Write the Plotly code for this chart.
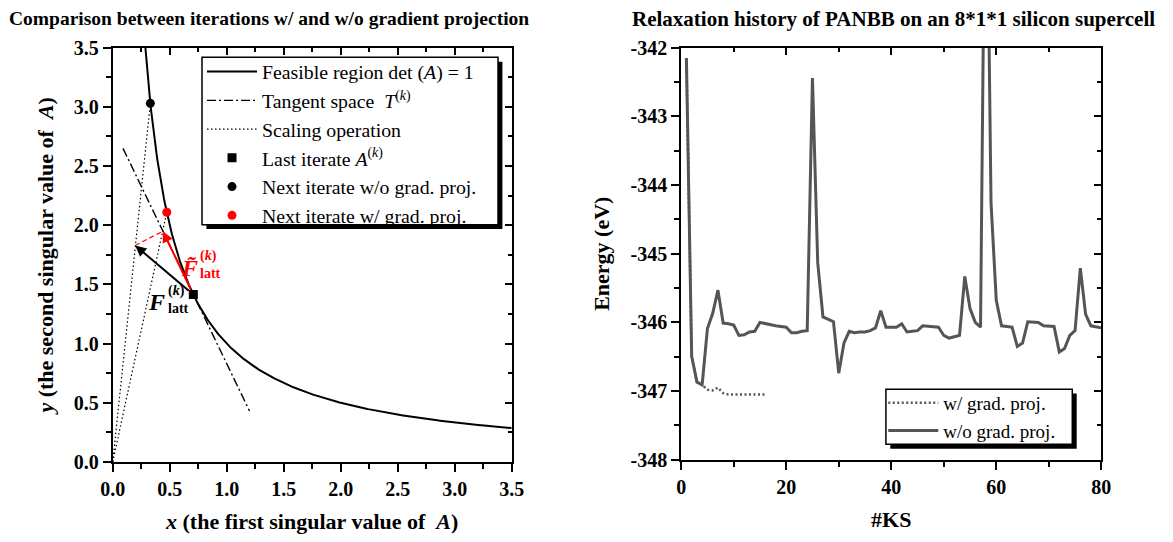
import numpy as np
import plotly.graph_objects as go

W, H = 1173, 542
FONT = "Liberation Serif"

# ---------------- Left panel data ----------------
curve_x = np.linspace(0.28, 3.5, 400)          # feasible region det(A)=1  ->  x*y = 1
curve_y = 1.0 / curve_x
tangent_x = [0.09, 1.20]
tangent_y = [2.65, 0.43]
last_iter_x, last_iter_y = [0.707], [1.414]
next_wo_x, next_wo_y = [0.33], [3.03]
next_w_x, next_w_y = [0.474], [2.11]
f_tip = (0.197, 1.829)
ftilde_tip = (0.44, 1.95)
scaling_x = [0.0, next_wo_x[0], None, 0.0, next_w_x[0]]
scaling_y = [0.0, next_wo_y[0], None, 0.0, next_w_y[0]]

# ---------------- Right panel data ----------------
ks_wo = list(range(1, 81))
energy_wo = [-342.15, -346.49, -346.87, -346.91, -346.09, -345.87, -345.53, -346.01, -346.02, -346.04,
             -346.19, -346.18, -346.14, -346.13, -346.00, -346.02, -346.04, -346.05, -346.06, -346.07,
             -346.15, -346.15, -346.13, -346.12, -342.44, -345.13, -345.92, -345.95, -345.99, -346.74,
             -346.30, -346.13, -346.15, -346.14, -346.14, -346.12, -346.08, -345.83, -346.07, -346.07,
             -346.07, -346.02, -346.14, -346.13, -346.12, -346.05, -346.06, -346.06, -346.07, -346.19,
             -346.23, -346.21, -346.19, -345.33, -345.80, -346.00, -346.07, -338.00, -344.26, -345.68,
             -346.05, -346.06, -346.07, -346.35, -346.30, -345.99, -345.99, -346.00, -346.05, -346.06,
             -346.06, -346.43, -346.38, -346.19, -346.12, -345.21, -345.88, -346.05, -346.07, -346.08]
ks_w = list(range(1, 17))
energy_w = [-342.15, -346.49, -346.87, -346.91, -346.98, -346.99, -346.95, -347.03, -347.05, -347.05,
            -347.05, -347.05, -347.05, -347.05, -347.05, -347.05]
energy_tickvals = [-348, -347, -346, -345, -344, -343, -342]
energy_ticktext = ["-348", "-347", "-346", "-345", "-344", "-343", "-342"]

GRAY = "#555555"
RED = "#ff0000"


def px(x):
    return x / W


def py(y):
    return 1 - y / H


def dx(p):   # left panel pixel -> data x
    return (p - 102) / (408 / 3.5)


def dy(p):   # left panel pixel -> data y
    return 3.5 - (p - 38.3) / (431.7 / 3.5)


fig = go.Figure()

# ---- left traces ----
fig.add_trace(go.Scatter(x=curve_x, y=curve_y, mode="lines", line=dict(color="black", width=2),
                         name="Feasible region det (<i>A</i>) = 1", legend="legend"))
fig.add_trace(go.Scatter(x=tangent_x, y=tangent_y, mode="lines",
                         line=dict(color="black", width=1.4, dash="9px,3px,2px,3px"),
                         name="Tangent space\u00a0 <i>T</i><sup>(<i>k</i>)</sup>", legend="legend"))
fig.add_trace(go.Scatter(x=scaling_x, y=scaling_y, mode="lines",
                         line=dict(color="black", width=1.2, dash="1.5px,2.5px"),
                         name="Scaling operation", legend="legend"))
fig.add_trace(go.Scatter(x=[f_tip[0], ftilde_tip[0]], y=[f_tip[1], ftilde_tip[1]], mode="lines",
                         line=dict(color=RED, width=1.2, dash="5px,3px"), showlegend=False))
fig.add_trace(go.Scatter(x=last_iter_x, y=last_iter_y, mode="markers",
                         marker=dict(symbol="square", size=9, color="black"),
                         name="Last iterate <i>A</i><sup>(<i>k</i>)</sup>", legend="legend"))
fig.add_trace(go.Scatter(x=next_wo_x, y=next_wo_y, mode="markers",
                         marker=dict(symbol="circle", size=9, color="black"),
                         name="Next iterate w/o grad. proj.", legend="legend"))
fig.add_trace(go.Scatter(x=next_w_x, y=next_w_y, mode="markers",
                         marker=dict(symbol="circle", size=9, color=RED),
                         name="Next iterate w/ grad. proj.", legend="legend"))

# ---- right traces ----
fig.add_trace(go.Scatter(x=ks_w, y=energy_w, mode="lines", xaxis="x2", yaxis="y2",
                         line=dict(color=GRAY, width=2.5, dash="2px,2.5px"),
                         name="w/ grad. proj.", legend="legend2"))
fig.add_trace(go.Scatter(x=ks_wo, y=energy_wo, mode="lines", xaxis="x2", yaxis="y2",
                         line=dict(color=GRAY, width=3),
                         name="w/o grad. proj.", legend="legend2"))

# dummy traces for mirrored (inward) tick axes
fig.add_trace(go.Scatter(x=[], y=[], xaxis="x3", yaxis="y3", showlegend=False, hoverinfo="skip"))
fig.add_trace(go.Scatter(x=[], y=[], xaxis="x4", yaxis="y4", showlegend=False, hoverinfo="skip"))

tickfont = dict(family=FONT, size=20, color="black", weight="bold")
titlefont = dict(family=FONT, size=22, color="black", weight="bold")


def main_axis(domain, rng, dtick, minor_dtick, anchor, title, fmt=None, standoff=None, **kw):
    d = dict(domain=domain, range=rng, anchor=anchor, dtick=dtick,
             ticks="outside", ticklen=8, tickwidth=2, tickcolor="black",
             showline=True, linewidth=2, linecolor="black", mirror=True,
             showgrid=False, zeroline=False, tickfont=tickfont,
             minor=dict(dtick=minor_dtick, ticks="outside", ticklen=5, tickwidth=2, tickcolor="black"),
             title=dict(text=title, font=titlefont))
    if standoff is not None:
        d["title"]["standoff"] = standoff
    if fmt:
        d["tickformat"] = fmt
        d["tick0"] = rng[0]
    d.update(kw)
    return d


def mirror_axis(overlay, rng, dtick, minor_dtick, anchor, side):
    return dict(overlaying=overlay, range=rng, anchor=anchor, side=side, dtick=dtick, tick0=rng[0],
                ticks="inside", ticklen=7, tickwidth=2, tickcolor="black",
                showticklabels=False, showline=False, showgrid=False, zeroline=False,
                minor=dict(dtick=minor_dtick, ticks="inside", ticklen=4, tickwidth=2, tickcolor="black"))


L_dom_x = [px(102), px(510)]
L_dom_y = [py(470), py(38.3)]
R_dom_x = [px(683.3), px(1113)]
R_dom_y = [py(467.7), py(38.3)]

fig.update_layout(
    width=W, height=H, margin=dict(l=0, r=0, t=0, b=0),
    paper_bgcolor="white", plot_bgcolor="white",
    font=dict(family=FONT, color="black"),
    xaxis=main_axis(L_dom_x, [0, 3.5], 0.5, 0.25, "y",
                    "<i>x</i> (the first singular value of\u00a0 <i>A</i>)", fmt=".1f"),
    yaxis=main_axis(L_dom_y, [0, 3.5], 0.5, 0.25, "x",
                    "<i>y</i> (the second singular value of\u00a0 <i>A</i>)", fmt=".1f", standoff=14),
    xaxis2=main_axis(R_dom_x, [0, 80], 20, 10, "y2", "#KS"),
    yaxis2=main_axis(R_dom_y, [-348, -342], 1, 0.5, "x2", "Energy (eV)",
                     tickmode="array", tickvals=energy_tickvals, ticktext=energy_ticktext),
    xaxis3=mirror_axis("x", [0, 3.5], 0.5, 0.25, "y", "top"),
    yaxis3=mirror_axis("y", [0, 3.5], 0.5, 0.25, "x", "right"),
    xaxis4=mirror_axis("x2", [0, 80], 20, 10, "y2", "top"),
    yaxis4=mirror_axis("y2", [-348, -342], 1, 0.5, "x2", "right"),
    legend=dict(x=px(193.3), y=py(43.0), xanchor="left", yanchor="top", bgcolor="rgba(0,0,0,0)",
                borderwidth=0, font=dict(family=FONT, size=19.8, color="black"), itemwidth=50),
    legend2=dict(x=px(890), y=py(388.6), xanchor="left", yanchor="top", bgcolor="rgba(0,0,0,0)",
                 borderwidth=0, font=dict(family=FONT, size=19, color="black"), itemwidth=50),
    showlegend=True,
)

# legend frames with drop shadows
for (x0, y0, x1, y1) in [(193.3, 48.3, 496, 222.7), (892.7, 394.3, 1083.3, 451.7)]:
    fig.add_shape(type="rect", xref="paper", yref="paper",
                  x0=px(x0 + 4.5), x1=px(x1 + 4.5), y0=py(y0 + 4.5), y1=py(y1 + 4.5),
                  fillcolor="black", line=dict(width=0), layer="above")
    fig.add_shape(type="rect", xref="paper", yref="paper",
                  x0=px(x0), x1=px(x1), y0=py(y0), y1=py(y1),
                  fillcolor="white", line=dict(width=1.5, color="black"), layer="above")

ann = []
# arrows
for tip, col in [(f_tip, "black"), (ftilde_tip, RED)]:
    ann.append(dict(x=tip[0], y=tip[1], ax=last_iter_x[0], ay=last_iter_y[0], xref="x", yref="y",
                    axref="x", ayref="y", text="", showarrow=True, arrowhead=2, arrowsize=1.1,
                    arrowwidth=2, arrowcolor=col, startstandoff=4))
# labels for the force vectors
for (bx, fy, by, col, txt) in [(190, 268, 265, RED, "F\u0303"), (157, 303.5, 301, "black", "F")]:
    ann.append(dict(x=dx(bx + 1), y=dy(fy), xref="x", yref="y", text="<b><i>%s</i></b>" % txt,
                    showarrow=False, xanchor="right", yanchor="middle",
                    font=dict(family=FONT, size=24, color=col)))
    ann.append(dict(x=dx(bx), y=dy(by), xref="x", yref="y", text="<b>(<i>k</i>)</b>",
                    showarrow=False, xanchor="left", yanchor="bottom", borderpad=0,
                    font=dict(family=FONT, size=14, color=col)))
    ann.append(dict(x=dx(bx), y=dy(by), xref="x", yref="y", text="<b>latt</b>",
                    showarrow=False, xanchor="left", yanchor="top", borderpad=0,
                    font=dict(family=FONT, size=14, color=col)))
# panel titles
ann.append(dict(x=px(262), y=py(8), xref="paper", yref="paper", showarrow=False,
                text="<b>Comparison between iterations w/ and w/o gradient projection</b>",
                font=dict(family=FONT, size=19.5, color="black"), xanchor="center", yanchor="middle"))
ann.append(dict(x=px(900), y=py(8), xref="paper", yref="paper", showarrow=False,
                text="<b>Relaxation history of PANBB on an 8*1*1 silicon supercell</b>",
                font=dict(family=FONT, size=21, color="black"), xanchor="center", yanchor="middle"))
fig.update_layout(annotations=ann)

fig.write_html("out.html")
